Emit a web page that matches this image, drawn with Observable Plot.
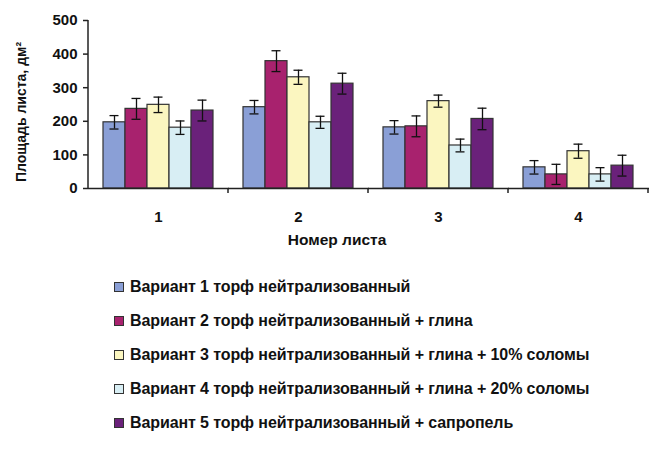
<!DOCTYPE html>
<html>
<head>
<meta charset="utf-8">
<script src="https://cdn.jsdelivr.net/npm/d3@7"></script>
<script src="https://cdn.jsdelivr.net/npm/@observablehq/plot@0.6"></script>
<style>
  html, body { margin: 0; padding: 0; background: #ffffff; }
  body { width: 653px; height: 451px; overflow: hidden; font-family: "Liberation Sans", Arial, sans-serif; }
  #legend { margin-left: 114px; margin-top: 15px; }
  .item { display: flex; align-items: center; height: 34px; font-weight: bold; font-size: 16px; color: #111; letter-spacing: -0.1px; }
  .sw { width: 8px; height: 8px; border: 1px solid #333; margin-right: 6px; }
</style>
</head>
<body>
<div id="chart"></div>
<div id="legend"></div>
<script>
const groups = ["1", "2", "3", "4"];
const variants = [
  "Вариант 1 торф нейтрализованный",
  "Вариант 2 торф нейтрализованный + глина",
  "Вариант 3 торф нейтрализованный + глина + 10% соломы",
  "Вариант 4 торф нейтрализованный + глина + 20% соломы",
  "Вариант 5 торф нейтрализованный + сапропель"
];
const colors = ["#8a9fd6", "#a8226e", "#fbf6c0", "#d8eef4", "#6a217a"];
// values[variant][group]
const values = [
  [197, 242, 182, 63],
  [237, 379, 185, 42],
  [249, 331, 260, 111],
  [181, 197, 128, 42],
  [232, 312, 207, 68]
];
const errors = [
  [20, 20, 20, 20],
  [31, 31, 31, 30],
  [23, 21, 18, 21],
  [20, 18, 19, 20],
  [31, 31, 32, 31]
];
const yTicks = [0, 100, 200, 300, 400, 500];

const data = [];
variants.forEach((v, i) => groups.forEach((g, j) => {
  data.push({group: g, variant: v, value: values[i][j], err: errors[i][j]});
}));

const plot = Plot.plot({
  width: 653,
  height: 255,
  marginLeft: 88,
  marginRight: 5,
  marginTop: 20,
  marginBottom: 67,
  style: {fontFamily: "Liberation Sans, Arial, sans-serif", fontWeight: "bold", fontSize: "15px", color: "#111", background: "transparent"},
  fx: {domain: groups, padding: 0, label: null},
  x: {domain: variants, paddingInner: 0, paddingOuter: 0.68, axis: null},
  y: {domain: [0, 500], ticks: yTicks, label: null},
  color: {domain: variants, range: colors},
  marks: [
    Plot.axisY({ticks: yTicks, tickSize: 5, tickPadding: 6, stroke: "#222", strokeWidth: 1.5, label: null, fontSize: 15}),
    Plot.axisFx({anchor: "bottom", tickSize: 0, tickPadding: 23, fontSize: 15, label: null}),
    Plot.barY(data, {fx: "group", x: "variant", y: "value", fill: "variant", stroke: "#333", strokeWidth: 1.2}),
    Plot.ruleX(data, {fx: "group", x: "variant", y1: d => d.value - d.err, y2: d => d.value + d.err, stroke: "#111", strokeWidth: 1.3}),
    Plot.tickY(data, {fx: "group", x: "variant", y: d => d.value - d.err, stroke: "#111", strokeWidth: 1.3, insetLeft: 6.5, insetRight: 6.5}),
    Plot.tickY(data, {fx: "group", x: "variant", y: d => d.value + d.err, stroke: "#111", strokeWidth: 1.3, insetLeft: 6.5, insetRight: 6.5}),
    Plot.ruleY([0], {stroke: "#222", strokeWidth: 1.5, insetRight: -1})
  ]
});

// vertical axis line and boundary ticks, positioned from the plot's own scales
const svg = d3.select(plot);
const fx = plot.scale("fx");
const ys = Plot.scale({y: plot.scale("y")});
const fxs = Plot.scale({x: {type: "band", domain: fx.domain, range: fx.range, padding: 0}});
const y0 = ys.apply(0), yTop = ys.apply(500);
const left = fx.range[0];
svg.append("line").attr("x1", left).attr("x2", left).attr("y1", y0).attr("y2", yTop)
  .attr("stroke", "#222").attr("stroke-width", 1.5);
groups.forEach(g => {
  const xr = fxs.apply(g) + fxs.bandwidth;
  svg.append("line").attr("x1", xr).attr("x2", xr).attr("y1", y0).attr("y2", y0 + 5)
    .attr("stroke", "#222").attr("stroke-width", 1.5);
});
svg.append("text").attr("x", 337).attr("y", 245)
  .attr("text-anchor", "middle").attr("font-size", 15.5).attr("font-weight", "bold").attr("fill", "#111")
  .text("Номер листа");
svg.append("text").attr("transform", `translate(26,${(y0 + yTop) / 2 + 8}) rotate(-90)`)
  .attr("text-anchor", "middle").attr("font-size", 14).attr("font-weight", "bold").attr("fill", "#111")
  .text("Площадь листа, дм²");

document.getElementById("chart").appendChild(plot);

const legend = d3.select("#legend");
variants.forEach((v, i) => {
  const it = legend.append("div").attr("class", "item");
  it.append("div").attr("class", "sw").style("background", colors[i]);
  it.append("span").text(v);
});
</script>
</body>
</html>
